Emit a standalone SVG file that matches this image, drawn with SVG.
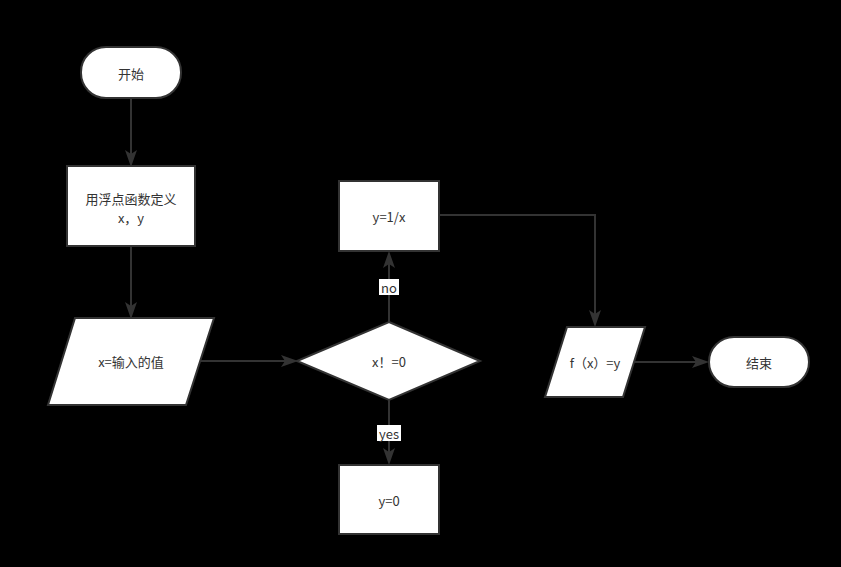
<svg xmlns="http://www.w3.org/2000/svg" width="841" height="567" viewBox="0 0 841 567">
<defs>
<style>
.n{fill:#fff;stroke:#333;stroke-width:2}
.t{font-family:"Noto Sans CJK SC","Noto Sans",sans-serif;font-size:13px;fill:#333;text-anchor:middle;dominant-baseline:central}
.c{fill:none;stroke:#333;stroke-width:2}
.h{fill:#333}
.lb{fill:#fff}
</style>
</defs>
<rect width="841" height="567" fill="#000"/>
<g id="connectors">
<path class="c" d="M131,98 V159"/>
<path class="h" d="M131,167 L125,150 L131,154 L137,150 Z"/>
<path class="c" d="M131,246 V311"/>
<path class="h" d="M131,319 L125,302 L131,306 L137,302 Z"/>
<path class="c" d="M200,361 H290"/>
<path class="h" d="M298,361 L281,355 L285,361 L281,367 Z"/>
<path class="c" d="M389,322 V259"/>
<path class="h" d="M389,251 L383,268 L389,264 L395,268 Z"/>
<path class="c" d="M389,400 V457"/>
<path class="h" d="M389,465 L383,448 L389,452 L395,448 Z"/>
<path class="c" d="M439,215 H595 V319"/>
<path class="h" d="M595,327 L589,310 L595,314 L601,310 Z"/>
<path class="c" d="M633,362 H701"/>
<path class="h" d="M709,362 L692,356 L696,362 L692,368 Z"/>
<rect class="lb" x="379" y="279" width="20" height="16"/>
<text class="t" x="389" y="287">no</text>
<rect class="lb" x="377" y="425" width="24" height="16"/>
<text class="t" x="389" y="433">yes</text>
</g>
<g id="start">
<rect class="n" x="81" y="47" width="100" height="51" rx="25" ry="25"/>
<text class="t" x="131" y="73">开始</text>
</g>
<g id="define">
<rect class="n" x="67" y="166" width="128" height="80"/>
<text class="t" x="131" y="198">用浮点函数定义</text>
<text class="t" x="131" y="217">x，y</text>
</g>
<g id="input">
<polygon class="n" points="75,318 214,318 186,405 48,405"/>
<text class="t" x="131" y="361">x=输入的值</text>
</g>
<g id="decision">
<polygon class="n" points="389,322 480,361 389,400 297,361"/>
<text class="t" x="389" y="361">x！=0</text>
</g>
<g id="y1x">
<rect class="n" x="339" y="181" width="100" height="70"/>
<text class="t" x="389" y="216">y=1/x</text>
</g>
<g id="y0">
<rect class="n" x="339" y="465" width="100" height="69"/>
<text class="t" x="389" y="500">y=0</text>
</g>
<g id="output">
<polygon class="n" points="567,327 645,327 623,397 545,397"/>
<text class="t" x="595" y="362">f（x）=y</text>
</g>
<g id="end">
<rect class="n" x="709" y="337" width="100" height="50" rx="25" ry="25"/>
<text class="t" x="759" y="362">结束</text>
</g>
</svg>
